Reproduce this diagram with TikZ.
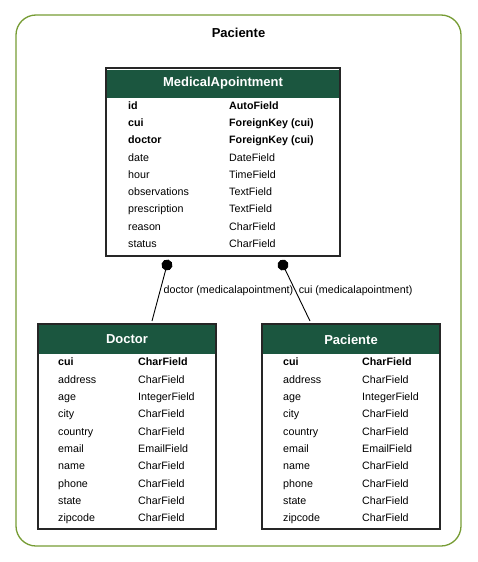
\documentclass[tikz,border=0pt]{standalone}
\usepackage{fontspec}
\setmainfont{Liberation Sans}
\usepackage{xcolor}
\usetikzlibrary{arrows.meta, positioning}

\definecolor{headgreen}{HTML}{1B563F}
\definecolor{clustergreen}{RGB}{118,156,52}

\begin{document}
\begin{tikzpicture}[
    x=1pt, y=-1pt,
    cluster/.style={draw=clustergreen, line width=1.3pt, rounded corners=20pt, minimum width=445pt, minimum height=531pt},
    clustertitle/.style={font=\fontsize{13}{15}\selectfont\bfseries},
    model/.style={draw=black!85, line width=1.2pt, fill=white, inner sep=0pt},
    header/.style={fill=headgreen, text=white, inner sep=0pt, font=\fontsize{13}{15}\selectfont\bfseries},
    field/.style={anchor=base west, inner sep=0pt, font=\fontsize{10.7}{12}\selectfont},
    keyfield/.style={field, font=\fontsize{10.7}{12}\selectfont\bfseries},
    fk/.style={{Circle[length=11pt]}-, line width=0.9pt},
    fklabel/.style={right, inner sep=3pt, font=\fontsize{10.7}{12}\selectfont}
]
\useasboundingbox (0,0) rectangle (477,562);

% Cluster
\node[cluster] (cluster) at (238.5,280.5) {};
\node[clustertitle] (clustername) at (238.5,33) {Paciente};

% MedicalApointment
\node[model, minimum width=234pt, minimum height=188pt] (medical) at (223,162) {};
\node[header, minimum width=232.8pt, minimum height=28pt] (medicalhead) at (223,83.5) {MedicalApointment};
\foreach \fname/\ftype/\fstyle [count=\i] in {id/AutoField/keyfield, cui/ForeignKey (cui)/keyfield, doctor/ForeignKey (cui)/keyfield,
    date/DateField/field, hour/TimeField/field, observations/TextField/field, prescription/TextField/field,
    reason/CharField/field, status/CharField/field} {
  \node[\fstyle] (medicalname\i) at (128,91.8+17.3*\i) {\fname};
  \node[\fstyle] (medicaltype\i) at (229,91.8+17.3*\i) {\ftype};
}

% Doctor
\node[model, minimum width=178pt, minimum height=205pt] (doctor) at (127,426.5) {};
\node[header, minimum width=176.8pt, minimum height=29pt] (doctorhead) at (127,339.5) {Doctor};
\foreach \fname/\ftype/\fstyle [count=\i] in {cui/CharField/keyfield, address/CharField/field, age/IntegerField/field,
    city/CharField/field, country/CharField/field, email/EmailField/field, name/CharField/field,
    phone/CharField/field, state/CharField/field, zipcode/CharField/field} {
  \node[\fstyle] (doctorname\i) at (58,348.5+17.33*\i) {\fname};
  \node[\fstyle] (doctortype\i) at (138,348.5+17.33*\i) {\ftype};
}

% Paciente
\node[model, minimum width=178pt, minimum height=205pt] (paciente) at (351,426.5) {};
\node[header, minimum width=176.8pt, minimum height=29pt] (pacientehead) at (351,339.5) {Paciente};
\foreach \fname/\ftype/\fstyle [count=\i] in {cui/CharField/keyfield, address/CharField/field, age/IntegerField/field,
    city/CharField/field, country/CharField/field, email/EmailField/field, name/CharField/field,
    phone/CharField/field, state/CharField/field, zipcode/CharField/field} {
  \node[\fstyle] (pacientename\i) at (283,348.5+17.33*\i) {\fname};
  \node[\fstyle] (pacientetype\i) at (362,348.5+17.33*\i) {\ftype};
}

% Foreign keys
\coordinate (doctorfrom) at (168.4,259.7);
\coordinate (doctorto) at (152,321);
\coordinate (pacientefrom) at (280.6,260.1);
\coordinate (pacienteto) at (310,321);
\draw[fk] (doctorfrom) -- node[fklabel] {doctor (medicalapointment)} (doctorto);
\draw[fk] (pacientefrom) -- node[fklabel] {cui (medicalapointment)} (pacienteto);

\end{tikzpicture}
\end{document}
